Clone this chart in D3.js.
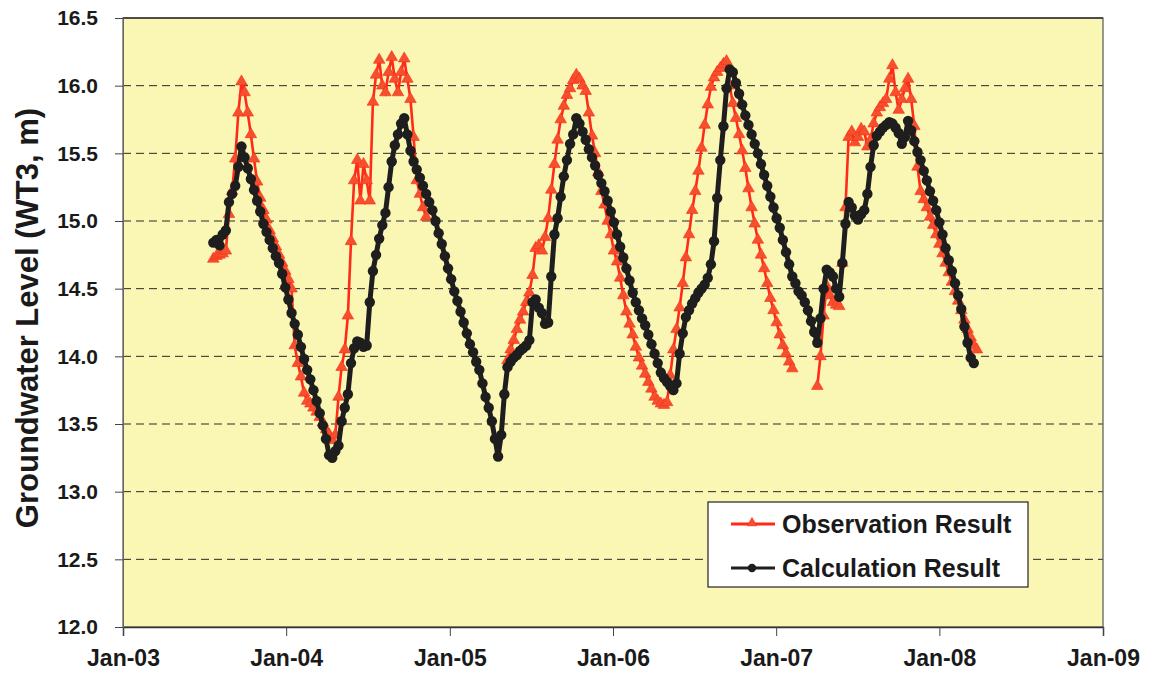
<!DOCTYPE html>
<html>
<head>
<meta charset="utf-8">
<script src="https://cdn.jsdelivr.net/npm/d3@7"></script>
<style>
  body { margin: 0; background: #ffffff; }
  svg { display: block; font-family: "Liberation Sans", Arial, Helvetica, sans-serif; }
</style>
</head>
<body>
<svg id="chart" width="1154" height="679"></svg>
<script>
// ---- data -------------------------------------------------------------
const xTickLabels = ["Jan-03", "Jan-04", "Jan-05", "Jan-06", "Jan-07", "Jan-08", "Jan-09"];
const yTickValues = [12.0, 12.5, 13.0, 13.5, 14.0, 14.5, 15.0, 15.5, 16.0, 16.5];
const seriesNames = ["Observation Result", "Calculation Result"];
const yAxisTitle = "Groundwater Level (WT3, m)";

// weekly readings starting at these dates (null = no record)
const obsStart = "2003-07-22";
const calcStart = "2003-07-22";

const obsWeekly = [
  14.72, 14.74, 14.75, 14.76, 14.78, 15.05, 15.22, 15.46, 15.80, 16.03,
  15.95, 15.80, 15.64, 15.46, 15.29, 15.17, 15.08, 15.01, 14.93, 14.87,
  14.81, 14.75, 14.69, 14.63, 14.57, 14.50, 14.08, 13.95, 13.85, 13.73,
  13.67, 13.65, 13.62, 13.59, 13.55, 13.51, 13.46, 13.42, 13.38, 13.42,
  13.70, 13.92, 14.05, 14.30, 14.85, 15.30, 15.45, 15.15, 15.42, 15.30,
  15.15, 15.88, 16.08, 16.19, 16.00, 15.95, 16.10, 16.21, 16.05, 15.95,
  16.10, 16.20, 16.05, 15.90, 15.62, 15.30, 15.20, 15.10, 15.03, null,
  null, null, null, null, null, null, null, null, null, null,
  null, null, null, null, null, null, null, null, null, null,
  null, null, null, null, 13.97, 14.05, 14.12, 14.20, 14.27, 14.33,
  14.40, 14.47, 14.60, 14.80, 14.82, 14.78, 14.88, 15.02, 15.23, 15.42,
  15.60, 15.75, 15.85, 15.93, 15.98, 16.04, 16.08, 16.05, 16.00, 15.96,
  15.80, 15.63, 15.50, 15.36, 15.22, 15.12, 15.00, 14.90, 14.78, 14.70,
  14.58, 14.45, 14.33, 14.24, 14.16, 14.07, 13.99, 13.93, 13.87, 13.81,
  13.76, 13.70, 13.67, 13.65, 13.64, 13.66, 13.86, 14.05, 14.20, 14.36,
  14.54, 14.73, 14.90, 15.08, 15.22, 15.37, 15.54, 15.71, 15.86, 15.99,
  16.06, 16.10, 16.13, 16.16, 16.18, 16.00, 15.87, 15.76, 15.64, 15.52,
  15.39, 15.24, 15.10, 14.98, 14.86, 14.75, 14.65, 14.54, 14.43, 14.34,
  14.25, 14.16, 14.08, 14.02, 13.96, 13.91, null, null, null, null,
  null, null, null, 13.78, 14.00, 14.30, 14.52, 14.45, 14.40, 14.38,
  14.37, 14.69, 15.10, 15.62, 15.66, 15.58, 15.62, 15.68, 15.66, 15.55,
  15.60, 15.72, 15.80, 15.84, 15.87, 15.90, 16.05, 16.15, 15.95, 15.82,
  15.90, 15.98, 16.05, 15.90, 15.70, 15.40, 15.22, 15.16, 15.10, 15.03,
  14.97, 14.90, 14.83, 14.76, 14.69, 14.62, 14.55, 14.48, 14.41, 14.34,
  14.27, 14.20, 14.14, 14.08, 14.05
];

const calcWeekly = [
  14.84, 14.86, 14.82, 14.90, 14.93, 15.14, 15.20, 15.26, 15.40, 15.55,
  15.47, 15.39, 15.31, 15.23, 15.15, 15.07, 14.98, 14.92, 14.86, 14.80,
  14.74, 14.69, 14.61, 14.51, 14.42, 14.32, 14.24, 14.16, 14.07, 13.98,
  13.90, 13.83, 13.75, 13.67, 13.58, 13.49, 13.39, 13.27, 13.25, 13.30,
  13.34, 13.52, 13.62, 13.72, 13.95, 14.06, 14.11, 14.10, 14.07, 14.08,
  14.40, 14.63, 14.75, 14.87, 14.97, 15.06, 15.25, 15.44, 15.56, 15.64,
  15.72, 15.76, 15.64, 15.52, 15.44, 15.38, 15.32, 15.26, 15.20, 15.14,
  15.08, 15.00, 14.91, 14.83, 14.74, 14.65, 14.57, 14.48, 14.41, 14.33,
  14.25, 14.17, 14.09, 14.03, 13.96, 13.90, 13.80, 13.70, 13.62, 13.52,
  13.39, 13.26, 13.42, 13.72, 13.92, 13.96, 13.99, 14.01, 14.04, 14.06,
  14.08, 14.12, 14.40, 14.42, 14.36, 14.32, 14.24, 14.25, 14.59, 14.90,
  15.02, 15.18, 15.33, 15.45, 15.57, 15.64, 15.76, 15.72, 15.66, 15.60,
  15.53, 15.47, 15.41, 15.34, 15.28, 15.22, 15.15, 15.07, 14.99, 14.90,
  14.81, 14.73, 14.65, 14.56, 14.47, 14.40, 14.34, 14.28, 14.23, 14.16,
  14.09, 14.02, 13.95, 13.88, 13.84, 13.81, 13.78, 13.75, 13.80, 14.02,
  14.17, 14.29, 14.34, 14.39, 14.43, 14.47, 14.50, 14.53, 14.58, 14.68,
  14.85, 15.17, 15.45, 15.70, 15.98, 16.12, 16.10, 16.02, 15.94, 15.86,
  15.78, 15.71, 15.64, 15.57, 15.50, 15.42, 15.34, 15.26, 15.18, 15.10,
  15.02, 14.95, 14.86, 14.77, 14.68, 14.59, 14.54, 14.48, 14.45, 14.40,
  14.34, 14.26, 14.18, 14.10, 14.28, 14.50, 14.64, 14.62, 14.59, 14.50,
  14.44, 14.69, 14.98, 15.14, 15.10, 15.04, 15.01, 15.05, 15.08, 15.20,
  15.40, 15.56, 15.63, 15.66, 15.69, 15.71, 15.73, 15.72, 15.69, 15.65,
  15.57, 15.62, 15.74, 15.67, 15.59, 15.51, 15.45, 15.37, 15.30, 15.22,
  15.15, 15.08, 14.99, 14.90, 14.80, 14.71, 14.63, 14.54, 14.45, 14.35,
  14.22, 14.10, 13.99, 13.95
];

// ---- layout -----------------------------------------------------------
const margin = { left: 123, right: 51, top: 18, bottom: 52 };
const W = 1154, H = 679;
const iw = W - margin.left - margin.right;
const ih = H - margin.top - margin.bottom;

const colors = {
  plotBg: "#FAF6B4",
  obsLine: "#FF2A18",
  obsFill: "#F4502E",
  calc: "#1E1E1E",
  grid: "#2a2a2a",
  text: "#1a1a1a"
};

const parseDay = d3.timeParse("%Y-%m-%d");
function toSeries(start, values) {
  const t0 = parseDay(start);
  return values.map((v, i) => ({ date: d3.timeDay.offset(t0, 7 * i), v }));
}
const obs = toSeries(obsStart, obsWeekly);
const calc = toSeries(calcStart, calcWeekly);

const x = d3.scaleTime()
  .domain([new Date(2003, 0, 1), new Date(2009, 0, 1)])
  .range([0, iw]);
const y = d3.scaleLinear()
  .domain([yTickValues[0], yTickValues[yTickValues.length - 1]])
  .range([ih, 0]);

const svg = d3.select("#chart");
const g = svg.append("g").attr("transform", `translate(${margin.left},${margin.top})`);

// plot background
g.append("rect")
  .attr("x", 0).attr("y", 0).attr("width", iw).attr("height", ih)
  .attr("fill", colors.plotBg);

// dashed horizontal gridlines
g.append("g")
  .selectAll("line")
  .data(yTickValues.slice(1, -1))
  .join("line")
  .attr("x1", 0).attr("x2", iw)
  .attr("y1", d => y(d)).attr("y2", d => y(d))
  .attr("stroke", colors.grid)
  .attr("stroke-width", 1)
  .attr("stroke-dasharray", "8,5");

// plot frame
g.append("rect")
  .attr("x", 0).attr("y", 0).attr("width", iw).attr("height", ih)
  .attr("fill", "none").attr("stroke", "#555").attr("stroke-width", 1.2);
g.append("line")
  .attr("x1", 0).attr("x2", iw).attr("y1", 0).attr("y2", 0)
  .attr("stroke", "#333").attr("stroke-width", 1.5);

// axes
const yearTicks = d3.timeYear.range(new Date(2003, 0, 1), new Date(2009, 0, 2));
const xAxis = d3.axisBottom(x)
  .tickValues(yearTicks)
  .tickFormat((d, i) => xTickLabels[i])
  .tickSize(9).tickPadding(14);
const gx = g.append("g").attr("transform", `translate(0,${ih})`).call(xAxis);
gx.select(".domain").attr("stroke", "#333").attr("stroke-width", 1.5);
gx.selectAll(".tick line").attr("stroke", "#444");
gx.selectAll(".tick text")
  .attr("fill", colors.text)
  .attr("font-size", 23).attr("font-weight", "bold")
  .attr("font-family", "Liberation Sans, Arial, sans-serif");

const yAxis = d3.axisLeft(y)
  .tickValues(yTickValues)
  .tickFormat(d3.format(".1f"))
  .tickSize(8).tickPadding(17);
const gy = g.append("g").call(yAxis);
gy.select(".domain").attr("stroke", "#666");
gy.selectAll(".tick line").attr("stroke", "#444");
gy.selectAll(".tick text")
  .attr("fill", colors.text)
  .attr("font-size", 21).attr("font-weight", "bold")
  .attr("font-family", "Liberation Sans, Arial, sans-serif");

// y axis title
svg.append("text")
  .attr("transform", "translate(38,318) rotate(-90)")
  .attr("text-anchor", "middle")
  .attr("font-size", 31).attr("font-weight", "bold")
  .attr("fill", colors.text)
  .text(yAxisTitle);

// series
const line = d3.line()
  .defined(d => d.v != null)
  .x(d => x(d.date))
  .y(d => y(d.v));

const triangle = d3.symbol().type(d3.symbolTriangle).size(58);
const legendTriangle = d3.symbol().type(d3.symbolTriangle).size(40);

const gObs = g.append("g");
gObs.append("path")
  .datum(obs)
  .attr("d", line)
  .attr("fill", "none")
  .attr("stroke", colors.obsLine)
  .attr("stroke-width", 2.6);
gObs.selectAll("path.pt")
  .data(obs.filter(d => d.v != null))
  .join("path")
  .attr("class", "pt")
  .attr("d", triangle)
  .attr("transform", d => `translate(${x(d.date)},${y(d.v)})`)
  .attr("fill", colors.obsFill)
  .attr("stroke", colors.obsLine)
  .attr("stroke-width", 0.6);

const gCalc = g.append("g");
gCalc.append("path")
  .datum(calc)
  .attr("d", line)
  .attr("fill", "none")
  .attr("stroke", colors.calc)
  .attr("stroke-width", 5)
  .attr("stroke-linejoin", "round");
gCalc.selectAll("circle")
  .data(calc.filter(d => d.v != null))
  .join("circle")
  .attr("cx", d => x(d.date))
  .attr("cy", d => y(d.v))
  .attr("r", 5.2)
  .attr("fill", colors.calc);

// legend
const lg = svg.append("g").attr("transform", "translate(708,502)");
lg.append("rect")
  .attr("width", 320).attr("height", 85)
  .attr("fill", "#ffffff").attr("stroke", "#222").attr("stroke-width", 1.2);
const legendRows = [
  { name: seriesNames[0], y: 22, kind: "obs" },
  { name: seriesNames[1], y: 66, kind: "calc" }
];
legendRows.forEach(r => {
  const row = lg.append("g").attr("transform", `translate(0,${r.y})`);
  row.append("line")
    .attr("x1", 23).attr("x2", 67).attr("y1", 0).attr("y2", 0)
    .attr("stroke", r.kind === "obs" ? colors.obsLine : colors.calc)
    .attr("stroke-width", 3);
  if (r.kind === "obs") {
    row.append("path").attr("d", legendTriangle)
      .attr("transform", "translate(44,-1)")
      .attr("fill", colors.obsFill).attr("stroke", colors.obsLine).attr("stroke-width", 0.6);
  } else {
    row.append("circle").attr("cx", 44).attr("cy", 0).attr("r", 4.2).attr("fill", colors.calc);
  }
  row.append("text")
    .attr("x", 74).attr("y", 9)
    .attr("font-size", 25).attr("font-weight", "bold")
    .attr("fill", colors.text)
    .text(r.name);
});
</script>
</body>
</html>
